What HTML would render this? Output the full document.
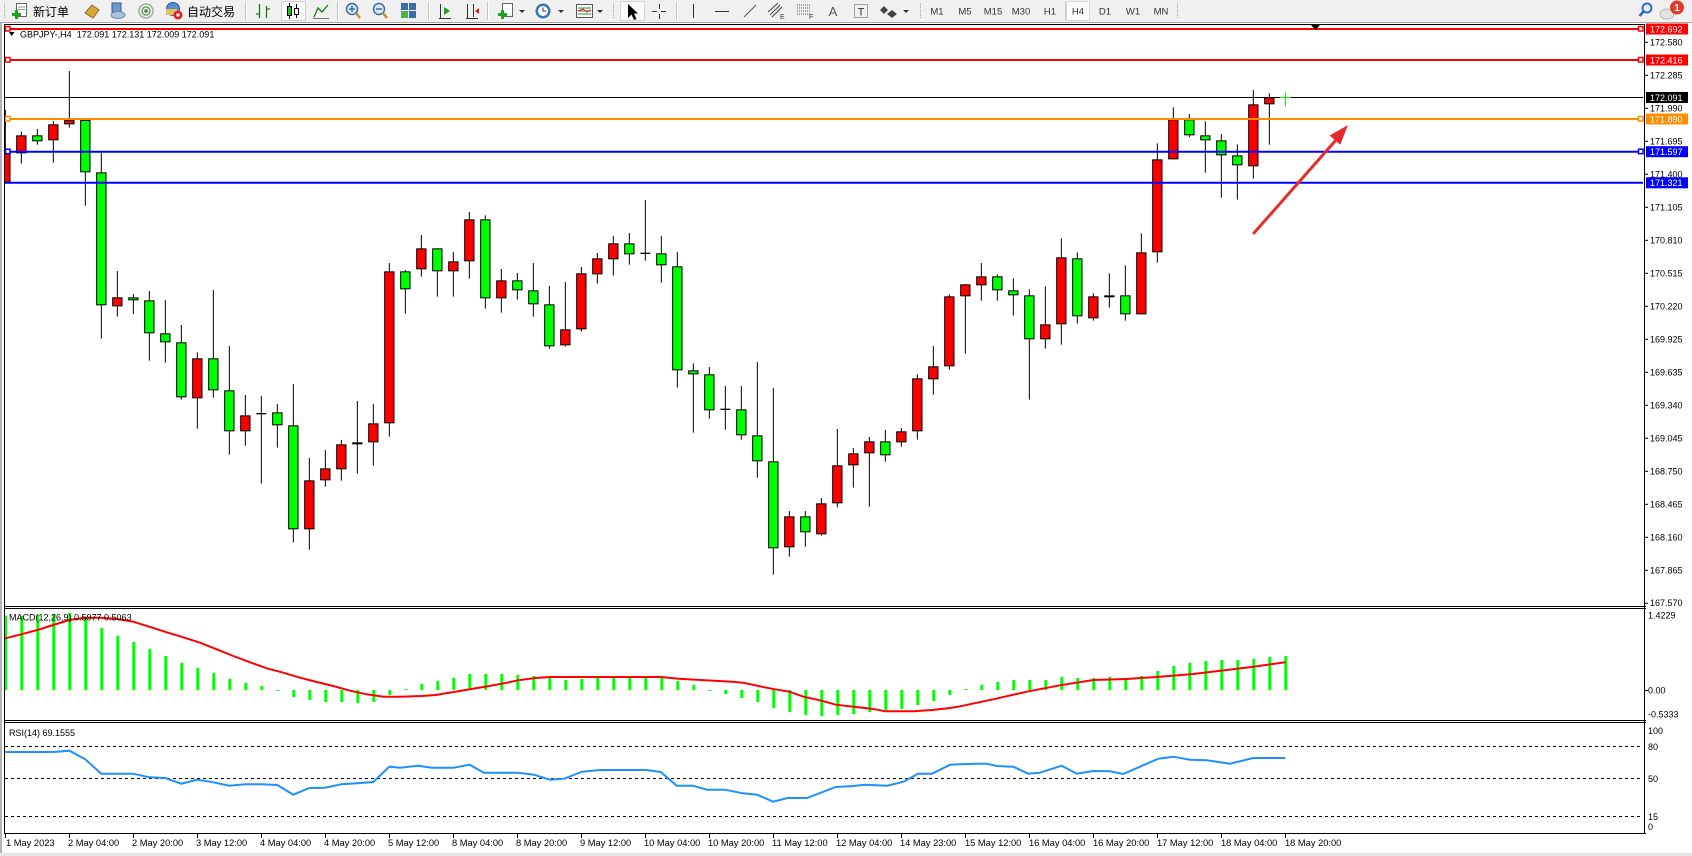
<!DOCTYPE html>
<html><head><meta charset="utf-8">
<style>
html,body{margin:0;padding:0;background:#fff;width:1692px;height:856px;overflow:hidden}
svg{display:block}
text{font-family:"Liberation Sans","Noto Sans CJK SC",sans-serif}
</style></head><body>
<svg width="1692" height="856" viewBox="0 0 1692 856" xmlns="http://www.w3.org/2000/svg">
<defs>
<clipPath id="cm"><rect x="5" y="25" width="1639" height="581"/></clipPath>
<clipPath id="cmacd"><rect x="5" y="609" width="1639" height="111"/></clipPath>
<clipPath id="crsi"><rect x="5" y="723" width="1639" height="110"/></clipPath>
</defs>

<!-- ============ TOOLBAR ============ -->
<rect x="0" y="0" width="1692" height="22" fill="#f0f0f0"/>
<line x1="0" y1="22.5" x2="1692" y2="22.5" stroke="#a8a8a8"/>
<line x1="4.5" y1="3" x2="4.5" y2="19" stroke="#a0a0a0" stroke-dasharray="1,1"/>
<!-- new order -->
<rect x="16.5" y="3.5" width="10" height="13" fill="#fff" stroke="#666"/>
<line x1="18" y1="7" x2="25" y2="7" stroke="#999"/><line x1="18" y1="9.5" x2="25" y2="9.5" stroke="#999"/>
<rect x="12" y="13" width="9" height="3" fill="#1fa31f"/><rect x="15" y="10" width="3" height="9" fill="#1fa31f"/>
<text x="33" y="16" font-size="12" fill="#000">新订单</text>
<!-- gold -->
<polygon points="85,13 92,5 99,10 93,18" fill="#d9a53a" stroke="#8a6a20"/>
<!-- terminal -->
<rect x="112" y="3" width="9" height="9" fill="#6a9ad0" stroke="#3a5a90"/>
<ellipse cx="118" cy="15" rx="7" ry="3.5" fill="#a9c3dd" stroke="#6a8ab0"/>
<!-- signals -->
<circle cx="146" cy="11" r="7" fill="none" stroke="#a0b0a0" stroke-width="1.5"/>
<circle cx="146" cy="11" r="4" fill="none" stroke="#70a070" stroke-width="1.5"/>
<circle cx="146" cy="11" r="1.8" fill="#3a8a3a"/>
<!-- auto trading -->
<circle cx="173" cy="9" r="6.5" fill="#5a8fcf" stroke="#2a5a9a"/>
<rect x="166" y="9" width="11" height="6" fill="#e8c060"/>
<circle cx="178" cy="15" r="4.5" fill="#e02020"/><rect x="176.5" y="13.5" width="3" height="3" fill="#fff"/>
<text x="187" y="16" font-size="12" fill="#000">自动交易</text>
<line x1="245.5" y1="2" x2="245.5" y2="20" stroke="#c4c4c4"/><line x1="246.5" y1="2" x2="246.5" y2="20" stroke="#fff"/>
<!-- chart types -->
<path d="M259.5 4V18M259.5 14H256M266.5 6V18M266.5 9H270" stroke="#1a7a1a" stroke-width="1.3" fill="none"/>
<rect x="281.5" y="1.5" width="24" height="19" fill="#fbfbfb" stroke="#d0d0d0"/>
<line x1="289.5" y1="3" x2="289.5" y2="19" stroke="#000"/><rect x="287.5" y="6.5" width="4" height="9" fill="#20c020" stroke="#000"/>
<line x1="296.5" y1="4" x2="296.5" y2="18" stroke="#000"/><rect x="294.5" y="8.5" width="4" height="6" fill="#fff" stroke="#000"/>
<polyline points="314,17 318,8 322,12 328,5" fill="none" stroke="#1a7a1a" stroke-width="1.3"/>
<line x1="313" y1="18.5" x2="329" y2="18.5" stroke="#777"/>
<line x1="337.5" y1="2" x2="337.5" y2="20" stroke="#c4c4c4"/><line x1="338.5" y1="2" x2="338.5" y2="20" stroke="#fff"/>
<!-- zoom -->
<circle cx="352" cy="9" r="5.5" fill="#d7e8f8" stroke="#3a6ea5" stroke-width="1.5"/>
<line x1="356" y1="13" x2="360" y2="18" stroke="#c89030" stroke-width="2.5"/>
<path d="M349 9H355M352 6V12" stroke="#2a5a95" stroke-width="1.3"/>
<circle cx="379" cy="9" r="5.5" fill="#d7e8f8" stroke="#3a6ea5" stroke-width="1.5"/>
<line x1="383" y1="13" x2="387" y2="18" stroke="#c89030" stroke-width="2.5"/>
<path d="M376 9H382" stroke="#2a5a95" stroke-width="1.3"/>
<rect x="401" y="3" width="7" height="7" fill="#3a6ea5"/><rect x="409" y="3" width="7" height="7" fill="#3a6ea5"/>
<rect x="401" y="11" width="7" height="7" fill="#4caf50"/><rect x="409" y="11" width="7" height="7" fill="#3a6ea5"/>
<line x1="428.5" y1="2" x2="428.5" y2="20" stroke="#c4c4c4"/><line x1="429.5" y1="2" x2="429.5" y2="20" stroke="#fff"/>
<path d="M440.5 4V18M439 18.5H451" stroke="#333" fill="none"/><polygon points="444,7 450,11 444,15" fill="#20a020"/>
<path d="M467.5 4V18M466 18.5H478M473.5 4V17" stroke="#333" fill="none"/><polygon points="475,11 479,8 479,14" fill="#d02020"/>
<line x1="487.5" y1="2" x2="487.5" y2="20" stroke="#c4c4c4"/><line x1="488.5" y1="2" x2="488.5" y2="20" stroke="#fff"/>
<rect x="502.5" y="3.5" width="10" height="13" fill="#fff" stroke="#666"/>
<rect x="498" y="13" width="9" height="3" fill="#1fa31f"/><rect x="501" y="10" width="3" height="9" fill="#1fa31f"/>
<polygon points="519,10 525,10 522,13" fill="#333"/>
<circle cx="543" cy="11" r="7.5" fill="#3a73c0"/><circle cx="543" cy="11" r="5" fill="#fff"/>
<path d="M543 7.5V11H546" stroke="#333" fill="none"/>
<polygon points="558,10 564,10 561,13" fill="#333"/>
<rect x="576.5" y="4.5" width="16" height="13" fill="#fff" stroke="#555"/>
<path d="M578 8H591M578 11H591M578 14H591" stroke="#3a8a3a"/><path d="M578 11L583 9L587 12L591 10" stroke="#d02020" fill="none"/>
<polygon points="597,10 603,10 600,13" fill="#333"/>
<line x1="613.5" y1="3" x2="613.5" y2="19" stroke="#a0a0a0" stroke-dasharray="1,1"/>
<!-- cursor etc -->
<rect x="620.5" y="1.5" width="24" height="19" fill="#fbfbfb" stroke="#d8d8d8"/>
<polygon points="628,4 628,18 631.5,14.5 634,20 636.5,19 634,13.5 638,13.5" fill="#000"/>
<path d="M652 11.5H657M661 11.5H666M659.5 4V9M659.5 14V19" stroke="#333"/>
<line x1="676.5" y1="2" x2="676.5" y2="20" stroke="#c4c4c4"/><line x1="677.5" y1="2" x2="677.5" y2="20" stroke="#fff"/>
<line x1="693.5" y1="4" x2="693.5" y2="18" stroke="#333"/>
<line x1="715" y1="11.5" x2="729" y2="11.5" stroke="#333"/>
<line x1="744" y1="17" x2="756" y2="5" stroke="#555"/>
<path d="M770 15L780 5M772 17L782 7M768 12L778 3" stroke="#444"/><text x="780" y="19" font-size="7" fill="#333">E</text>
<path d="M797 5H811M797 8H811M797 11H811M797 14H811" stroke="#555" stroke-dasharray="1,1"/><text x="809" y="19" font-size="7" fill="#333">F</text>
<text x="833" y="16" font-size="13" fill="#555" text-anchor="middle">A</text>
<rect x="854.5" y="4.5" width="13" height="13" fill="none" stroke="#555" stroke-dasharray="1,1"/><text x="861" y="15.5" font-size="11" fill="#333" text-anchor="middle">T</text>
<polygon points="884,6 888,10 884,14 880,10" fill="#444"/><polygon points="892,10 897,14 892,18 887,14" fill="#444"/>
<polygon points="903,10 909,10 906,13" fill="#333"/>
<line x1="920.5" y1="3" x2="920.5" y2="19" stroke="#a0a0a0" stroke-dasharray="1,1"/>
<g font-size="9.5" fill="#333" text-anchor="middle">
<text x="937" y="14.5">M1</text><text x="965" y="14.5">M5</text><text x="993" y="14.5">M15</text><text x="1021" y="14.5">M30</text><text x="1050" y="14.5">H1</text>
<line x1="1065.5" y1="2" x2="1065.5" y2="20" stroke="#c4c4c4"/>
<rect x="1066.5" y="1.5" width="23" height="19" fill="#fbfbfb" stroke="#d8d8d8"/>
<text x="1078" y="14.5">H4</text><text x="1105" y="14.5">D1</text><text x="1133" y="14.5">W1</text><text x="1161" y="14.5">MN</text>
</g>
<line x1="1177.5" y1="3" x2="1177.5" y2="19" stroke="#a0a0a0" stroke-dasharray="1,1"/>
<!-- right icons -->
<circle cx="1647" cy="8" r="4.5" fill="none" stroke="#2a6ac8" stroke-width="2"/>
<line x1="1643.5" y1="11.5" x2="1639.5" y2="16" stroke="#2a6ac8" stroke-width="2.5"/>
<ellipse cx="1667" cy="14" rx="7" ry="5" fill="#e2e2e2" stroke="#bbb"/>
<circle cx="1677" cy="7.5" r="7" fill="#e03c28"/>
<text x="1677" y="11" font-size="10" font-weight="bold" fill="#fff" text-anchor="middle">1</text>

<!-- ============ FRAMES ============ -->
<rect x="0" y="23" width="2" height="833" fill="#b4b4b4"/>
<rect x="0" y="853" width="1692" height="3" fill="#e6e6e6"/>
<line x1="4" y1="24.5" x2="1645" y2="24.5" stroke="#000"/>
<line x1="4.5" y1="24" x2="4.5" y2="834" stroke="#000"/>
<line x1="1644.5" y1="24" x2="1644.5" y2="834" stroke="#000"/>
<line x1="4" y1="606.5" x2="1646" y2="606.5" stroke="#000"/>
<line x1="4" y1="608.5" x2="1646" y2="608.5" stroke="#000"/>
<line x1="4" y1="720.5" x2="1646" y2="720.5" stroke="#000"/>
<line x1="4" y1="722.5" x2="1646" y2="722.5" stroke="#000"/>
<line x1="4" y1="833.5" x2="1646" y2="833.5" stroke="#000"/>

<!-- ============ CANDLES ============ -->
<g clip-path="url(#cm)">
<g transform="translate(0,60) scale(0.3333333)" stroke="#000" stroke-width="3">
<line x1="16" y1="150" x2="16" y2="370"/><rect x="2" y="281.5" width="28" height="85" fill="#f00"/>
<line x1="64" y1="215" x2="64" y2="311"/><rect x="50" y="227.5" width="28" height="51" fill="#f00"/>
<line x1="112" y1="207" x2="112" y2="254"/><rect x="98" y="227.5" width="28" height="15" fill="#0f0"/>
<line x1="160" y1="183" x2="160" y2="308"/><rect x="146" y="194.5" width="28" height="45" fill="#f00"/>
<line x1="208" y1="33" x2="208" y2="203"/><rect x="194" y="181.5" width="28" height="10" fill="#f00"/>
<line x1="256" y1="180" x2="256" y2="437"/><rect x="242" y="181.5" width="28" height="154" fill="#0f0"/>
<line x1="304" y1="277" x2="304" y2="836"/><rect x="290" y="338.5" width="28" height="396" fill="#0f0"/>
<line x1="352" y1="633" x2="352" y2="770"/><rect x="338" y="713.5" width="28" height="24" fill="#f00"/>
<line x1="400" y1="702" x2="400" y2="762"/><rect x="386" y="713.5" width="28" height="6" fill="#0f0"/>
<line x1="448" y1="693" x2="448" y2="902"/><rect x="434" y="722.5" width="28" height="96" fill="#0f0"/>
<line x1="496" y1="720" x2="496" y2="908"/><rect x="482" y="821.5" width="28" height="24" fill="#0f0"/>
<line x1="544" y1="795" x2="544" y2="1019"/><rect x="530" y="848.5" width="28" height="162" fill="#0f0"/>
<line x1="592" y1="877" x2="592" y2="1106"/><rect x="578" y="896.5" width="28" height="117" fill="#f00"/>
<line x1="640" y1="690" x2="640" y2="1013"/><rect x="626" y="896.5" width="28" height="93" fill="#0f0"/>
<line x1="688" y1="858" x2="688" y2="1184"/><rect x="674" y="992.5" width="28" height="120" fill="#0f0"/>
<line x1="736" y1="1005" x2="736" y2="1157"/><rect x="722" y="1067.5" width="28" height="45" fill="#f00"/>
<line x1="784" y1="1008" x2="784" y2="1271"/><line x1="769" y1="1061" x2="799" y2="1061" stroke-width="4"/>
<line x1="832" y1="1032" x2="832" y2="1163"/><rect x="818" y="1058.5" width="28" height="36" fill="#0f0"/>
<line x1="880" y1="972" x2="880" y2="1447"/><rect x="866" y="1097.5" width="28" height="309" fill="#0f0"/>
<line x1="928" y1="1194" x2="928" y2="1469"/><rect x="914" y="1262.5" width="28" height="144" fill="#f00"/>
</g>
<g transform="translate(320,100) scale(0.3333333)" stroke="#000" stroke-width="3">
<line x1="16" y1="1050" x2="16" y2="1160"/><rect x="2" y="1106.5" width="28" height="33" fill="#f00"/>
<line x1="64" y1="1020" x2="64" y2="1142"/><rect x="50" y="1034.5" width="28" height="72" fill="#f00"/>
<line x1="112" y1="903" x2="112" y2="1121"/><rect x="98" y="1028.5" width="28" height="3" fill="#f00"/>
<line x1="160" y1="912" x2="160" y2="1097"/><rect x="146" y="971.5" width="28" height="54" fill="#f00"/>
<line x1="208" y1="489" x2="208" y2="1010"/><rect x="194" y="515.5" width="28" height="453" fill="#f00"/>
<line x1="256" y1="510" x2="256" y2="641"/><rect x="242" y="515.5" width="28" height="51" fill="#0f0"/>
<line x1="304" y1="405" x2="304" y2="530"/><rect x="290" y="446.5" width="28" height="60" fill="#f00"/>
<line x1="352" y1="445" x2="352" y2="590"/><rect x="338" y="446.5" width="28" height="66" fill="#0f0"/>
<line x1="400" y1="456" x2="400" y2="590"/><rect x="386" y="485.5" width="28" height="27" fill="#f00"/>
<line x1="448" y1="336" x2="448" y2="536"/><rect x="434" y="359.5" width="28" height="123" fill="#f00"/>
<line x1="496" y1="346" x2="496" y2="626"/><rect x="482" y="359.5" width="28" height="234" fill="#0f0"/>
<line x1="544" y1="507" x2="544" y2="638"/><rect x="530" y="542.5" width="28" height="51" fill="#f00"/>
<line x1="592" y1="519" x2="592" y2="599"/><rect x="578" y="542.5" width="28" height="27" fill="#0f0"/>
<line x1="640" y1="489" x2="640" y2="650"/><rect x="626" y="572.5" width="28" height="39" fill="#0f0"/>
<line x1="688" y1="558" x2="688" y2="746"/><rect x="674" y="614.5" width="28" height="123" fill="#0f0"/>
<line x1="736" y1="546" x2="736" y2="740"/><rect x="722" y="689.5" width="28" height="45" fill="#f00"/>
<line x1="784" y1="501" x2="784" y2="695"/><rect x="770" y="521.5" width="28" height="165" fill="#f00"/>
<line x1="832" y1="459" x2="832" y2="551"/><rect x="818" y="476.5" width="28" height="45" fill="#f00"/>
<line x1="880" y1="408" x2="880" y2="527"/><rect x="866" y="431.5" width="28" height="45" fill="#f00"/>
<line x1="928" y1="399" x2="928" y2="494"/><rect x="914" y="431.5" width="28" height="30" fill="#0f0"/>
</g>
<g transform="translate(640,100) scale(0.3333333)" stroke="#000" stroke-width="3">
<line x1="16" y1="300" x2="16" y2="482"/><line x1="1" y1="460" x2="31" y2="460" stroke-width="4"/>
<line x1="64" y1="408" x2="64" y2="548"/><rect x="50" y="461.5" width="28" height="33" fill="#0f0"/>
<line x1="112" y1="456" x2="112" y2="863"/><rect x="98" y="500.5" width="28" height="309" fill="#0f0"/>
<line x1="160" y1="790" x2="160" y2="998"/><rect x="146" y="812.5" width="28" height="9" fill="#0f0"/>
<line x1="208" y1="801" x2="208" y2="956"/><rect x="194" y="824.5" width="28" height="105" fill="#0f0"/>
<line x1="256" y1="858" x2="256" y2="989"/><line x1="241" y1="928" x2="271" y2="928" stroke-width="4"/>
<line x1="304" y1="858" x2="304" y2="1019"/><rect x="290" y="929.5" width="28" height="75" fill="#0f0"/>
<line x1="352" y1="786" x2="352" y2="1133"/><rect x="338" y="1007.5" width="28" height="75" fill="#0f0"/>
<line x1="400" y1="864" x2="400" y2="1424"/><rect x="386" y="1085.5" width="28" height="258" fill="#0f0"/>
<line x1="448" y1="1233" x2="448" y2="1370"/><rect x="434" y="1250.5" width="28" height="90" fill="#f00"/>
<line x1="496" y1="1233" x2="496" y2="1340"/><rect x="482" y="1250.5" width="28" height="45" fill="#0f0"/>
<line x1="544" y1="1194" x2="544" y2="1307"/><rect x="530" y="1211.5" width="28" height="90" fill="#f00"/>
<line x1="592" y1="987" x2="592" y2="1222"/><rect x="578" y="1097.5" width="28" height="111" fill="#f00"/>
<line x1="640" y1="1044" x2="640" y2="1163"/><rect x="626" y="1061.5" width="28" height="33" fill="#f00"/>
<line x1="688" y1="1011" x2="688" y2="1220"/><rect x="674" y="1025.5" width="28" height="33" fill="#f00"/>
<line x1="736" y1="990" x2="736" y2="1085"/><rect x="722" y="1025.5" width="28" height="39" fill="#0f0"/>
<line x1="784" y1="984" x2="784" y2="1040"/><rect x="770" y="995.5" width="28" height="30" fill="#f00"/>
<line x1="832" y1="823" x2="832" y2="1019"/><rect x="818" y="836.5" width="28" height="156" fill="#f00"/>
<line x1="880" y1="738" x2="880" y2="884"/><rect x="866" y="800.5" width="28" height="36" fill="#f00"/>
<line x1="928" y1="583" x2="928" y2="809"/><rect x="914" y="590.5" width="28" height="207" fill="#f00"/>
</g>
<g transform="translate(960,80) scale(0.3333333)" stroke="#000" stroke-width="3">
<line x1="16" y1="612" x2="16" y2="821"/><rect x="2" y="614.5" width="28" height="33" fill="#f00"/>
<line x1="64" y1="549" x2="64" y2="662"/><rect x="50" y="590.5" width="28" height="24" fill="#f00"/>
<line x1="112" y1="583" x2="112" y2="662"/><rect x="98" y="590.5" width="28" height="39" fill="#0f0"/>
<line x1="160" y1="595" x2="160" y2="707"/><rect x="146" y="632.5" width="28" height="12" fill="#0f0"/>
<line x1="208" y1="628" x2="208" y2="959"/><rect x="194" y="647.5" width="28" height="129" fill="#0f0"/>
<line x1="256" y1="619" x2="256" y2="806"/><rect x="242" y="734.5" width="28" height="42" fill="#f00"/>
<line x1="304" y1="475" x2="304" y2="794"/><rect x="290" y="533.5" width="28" height="198" fill="#f00"/>
<line x1="352" y1="517" x2="352" y2="731"/><rect x="338" y="536.5" width="28" height="171" fill="#0f0"/>
<line x1="400" y1="640" x2="400" y2="722"/><rect x="386" y="650.5" width="28" height="63" fill="#f00"/>
<line x1="448" y1="580" x2="448" y2="683"/><rect x="434" y="647.5" width="28" height="3" fill="#f00"/>
<line x1="496" y1="556" x2="496" y2="722"/><rect x="482" y="647.5" width="28" height="54" fill="#0f0"/>
<line x1="544" y1="460" x2="544" y2="703"/><rect x="530" y="518.5" width="28" height="183" fill="#f00"/>
<line x1="592" y1="190" x2="592" y2="548"/><rect x="578" y="239.5" width="28" height="276" fill="#f00"/>
<line x1="640" y1="82" x2="640" y2="238"/><rect x="626" y="119.5" width="28" height="117" fill="#f00"/>
<line x1="688" y1="102" x2="688" y2="172"/><rect x="674" y="119.5" width="28" height="45" fill="#0f0"/>
<line x1="736" y1="124" x2="736" y2="278"/><rect x="722" y="167.5" width="28" height="12" fill="#0f0"/>
<line x1="784" y1="162" x2="784" y2="353"/><rect x="770" y="182.5" width="28" height="42" fill="#0f0"/>
<line x1="832" y1="193" x2="832" y2="359"/><rect x="818" y="227.5" width="28" height="27" fill="#0f0"/>
<line x1="880" y1="30" x2="880" y2="296"/><rect x="866" y="74.5" width="28" height="183" fill="#f00"/>
<line x1="928" y1="40" x2="928" y2="194"/><rect x="914" y="53.5" width="28" height="18" fill="#f00"/>
</g>

<!-- horizontal objects -->
<line x1="5" y1="29" x2="1643" y2="29" stroke="#f00" stroke-width="2"/>
<line x1="5" y1="60" x2="1643" y2="60" stroke="#f00" stroke-width="2"/>
<line x1="5" y1="97.5" x2="1643" y2="97.5" stroke="#000" stroke-width="1"/>
<line x1="5" y1="119" x2="1643" y2="119" stroke="#ff8c00" stroke-width="2"/>
<line x1="5" y1="151.7" x2="1643" y2="151.7" stroke="#0000ff" stroke-width="2"/>
<line x1="5" y1="182.8" x2="1643" y2="182.8" stroke="#0000ff" stroke-width="2"/>
<g fill="#fff" stroke-width="1.5">
<rect x="5.5" y="26.5" width="4.5" height="4.5" stroke="#f00"/>
<rect x="1638.5" y="26.5" width="4.5" height="4.5" stroke="#f00"/>
<rect x="5.5" y="57.5" width="4.5" height="4.5" stroke="#f00"/>
<rect x="1638.5" y="57.5" width="4.5" height="4.5" stroke="#f00"/>
<rect x="5.5" y="116.5" width="4.5" height="4.5" stroke="#ff8c00"/>
<rect x="1638.5" y="116.5" width="4.5" height="4.5" stroke="#ff8c00"/>
<rect x="5.5" y="149.2" width="4.5" height="4.5" stroke="#0000ff"/>
<rect x="1638.5" y="149.2" width="4.5" height="4.5" stroke="#0000ff"/>
</g>
<!-- current bar cross -->
<line x1="1285.5" y1="92.5" x2="1285.5" y2="106.5" stroke="#00ff00"/>
<line x1="1280" y1="97.5" x2="1291" y2="97.5" stroke="#00ff00"/>
<!-- arrow -->
<line x1="1254" y1="233" x2="1336" y2="140" stroke="#e52b2b" stroke-width="3" stroke-linecap="round"/>
<polygon points="1348,125 1340.2,144.7 1329.6,135.5" fill="#e52b2b"/>
<!-- shift marker -->
<polygon points="1311,25 1320,25 1315.5,30" fill="#000"/>
</g>

<!-- title -->
<polygon points="9,32 14.5,32 11.75,36" fill="#000"/>
<text x="20" y="37.6" font-size="9" fill="#000" xml:space="preserve">GBPJPY-,H4  172.091 172.131 172.009 172.091</text>

<!-- price axis -->
<g stroke="#000">
<line x1="1644" y1="42.3" x2="1648" y2="42.3"/><line x1="1644" y1="75.3" x2="1648" y2="75.3"/>
<line x1="1644" y1="108.3" x2="1648" y2="108.3"/><line x1="1644" y1="141.3" x2="1648" y2="141.3"/>
<line x1="1644" y1="174.3" x2="1648" y2="174.3"/><line x1="1644" y1="207.3" x2="1648" y2="207.3"/>
<line x1="1644" y1="240.3" x2="1648" y2="240.3"/><line x1="1644" y1="273.3" x2="1648" y2="273.3"/>
<line x1="1644" y1="306.3" x2="1648" y2="306.3"/><line x1="1644" y1="339.3" x2="1648" y2="339.3"/>
<line x1="1644" y1="372.3" x2="1648" y2="372.3"/><line x1="1644" y1="405.3" x2="1648" y2="405.3"/>
<line x1="1644" y1="438.3" x2="1648" y2="438.3"/><line x1="1644" y1="471.3" x2="1648" y2="471.3"/>
<line x1="1644" y1="504.3" x2="1648" y2="504.3"/><line x1="1644" y1="537.3" x2="1648" y2="537.3"/>
<line x1="1644" y1="570.3" x2="1648" y2="570.3"/><line x1="1644" y1="603.3" x2="1648" y2="603.3"/>
<line x1="1644" y1="690.5" x2="1648" y2="690.5"/>
</g>
<g font-size="9" fill="#000">
<text x="1650" y="45.5">172.580</text><text x="1650" y="78.5">172.285</text>
<text x="1650" y="111.5">171.990</text><text x="1650" y="144.5">171.695</text>
<text x="1650" y="177.5">171.400</text><text x="1650" y="210.5">171.105</text>
<text x="1650" y="243.5">170.810</text><text x="1650" y="276.5">170.515</text>
<text x="1650" y="309.5">170.220</text><text x="1650" y="342.5">169.925</text>
<text x="1650" y="375.5">169.635</text><text x="1650" y="408.5">169.340</text>
<text x="1650" y="441.5">169.045</text><text x="1650" y="474.5">168.750</text>
<text x="1650" y="507.5">168.465</text><text x="1650" y="540.5">168.160</text>
<text x="1650" y="573.5">167.865</text><text x="1650" y="606">167.570</text>
<text x="1648" y="618.3">1.4229</text><text x="1648" y="693.5">0.00</text><text x="1648" y="717.6">-0.5333</text>
<text x="1648" y="734">100</text><text x="1648" y="750">80</text><text x="1648" y="782">50</text>
<text x="1648" y="820">15</text><text x="1648" y="830">0</text>
</g>
<!-- price label boxes -->
<rect x="1646" y="23.5" width="42" height="11" fill="#f00"/>
<rect x="1646" y="54.5" width="42" height="11" fill="#f00"/>
<rect x="1646" y="92" width="42" height="11" fill="#000"/>
<rect x="1646" y="113.5" width="42" height="11" fill="#ff8c00"/>
<rect x="1646" y="146.2" width="42" height="11" fill="#0000ff"/>
<rect x="1646" y="177.3" width="42" height="11" fill="#0000ff"/>
<g font-size="9" fill="#fff">
<text x="1650" y="32.3">172.692</text><text x="1650" y="63.3">172.416</text>
<text x="1650" y="100.8">172.091</text><text x="1650" y="122.3">171.890</text>
<text x="1650" y="155">171.597</text><text x="1650" y="186.1">171.321</text>
</g>

<!-- ============ MACD ============ -->
<g clip-path="url(#cmacd)">
<g transform="translate(4.33,0)" fill="#00ff00">
<rect x="0" y="615.7" width="3" height="74.3"/><rect x="16" y="616" width="3" height="74"/>
<rect x="32" y="615" width="3" height="75"/><rect x="48" y="614" width="3" height="76"/>
<rect x="64" y="613" width="3" height="77"/><rect x="80" y="618.3" width="3" height="71.7"/>
<rect x="96" y="628" width="3" height="62"/><rect x="112" y="635.7" width="3" height="54.3"/>
<rect x="128" y="642" width="3" height="48"/><rect x="144" y="649" width="3" height="41"/>
<rect x="160" y="656" width="3" height="34"/><rect x="176" y="663" width="3" height="27"/>
<rect x="192" y="668" width="3" height="22"/><rect x="208" y="673" width="3" height="17"/>
<rect x="224" y="679" width="3" height="11"/><rect x="240" y="683" width="3" height="7"/>
<rect x="256" y="686" width="3" height="4"/><rect x="272" y="690" width="3" height="1"/>
<rect x="288" y="690" width="3" height="7"/><rect x="304" y="690" width="3" height="10"/>
<rect x="320" y="690" width="3" height="12"/><rect x="336" y="690" width="3" height="12"/>
<rect x="352" y="690" width="3" height="13"/><rect x="368" y="690" width="3" height="12"/>
<rect x="384" y="690" width="3" height="5"/><rect x="400" y="689" width="3" height="1"/>
<rect x="416" y="684" width="3" height="6"/><rect x="432" y="681" width="3" height="9"/>
<rect x="448" y="678" width="3" height="12"/><rect x="464" y="674" width="3" height="16"/>
<rect x="480" y="674" width="3" height="16"/><rect x="496" y="674" width="3" height="16"/>
<rect x="512" y="675" width="3" height="15"/><rect x="528" y="676" width="3" height="14"/>
<rect x="544" y="678" width="3" height="12"/><rect x="560" y="680" width="3" height="10"/>
<rect x="576" y="679" width="3" height="11"/><rect x="592" y="678" width="3" height="12"/>
<rect x="608" y="677" width="3" height="13"/><rect x="624" y="677" width="3" height="13"/>
<rect x="640" y="677" width="3" height="13"/><rect x="656" y="677" width="3" height="13"/>
<rect x="672" y="681" width="3" height="9"/><rect x="688" y="685" width="3" height="5"/>
<rect x="704" y="690" width="3" height="1"/><rect x="720" y="690" width="3" height="4"/>
<rect x="736" y="690" width="3" height="8"/><rect x="752" y="690" width="3" height="12"/>
<rect x="768" y="690" width="3" height="18"/><rect x="784" y="690" width="3" height="22"/>
<rect x="800" y="690" width="3" height="25"/><rect x="816" y="690" width="3" height="26"/>
<rect x="832" y="690" width="3" height="25"/><rect x="848" y="690" width="3" height="24"/>
<rect x="864" y="690" width="3" height="22"/><rect x="880" y="690" width="3" height="20"/>
<rect x="896" y="690" width="3" height="19"/><rect x="912" y="690" width="3" height="15"/>
<rect x="928" y="690" width="3" height="11"/><rect x="944" y="690" width="3" height="5"/>
<rect x="960" y="689" width="3" height="1"/><rect x="976" y="685" width="3" height="5"/>
<rect x="992" y="682" width="3" height="8"/><rect x="1008" y="680" width="3" height="10"/>
<rect x="1024" y="680" width="3" height="10"/><rect x="1040" y="680" width="3" height="10"/>
<rect x="1056" y="677" width="3" height="13"/><rect x="1072" y="678" width="3" height="12"/>
<rect x="1088" y="678" width="3" height="12"/><rect x="1104" y="677" width="3" height="13"/>
<rect x="1120" y="678" width="3" height="12"/><rect x="1136" y="676" width="3" height="14"/>
<rect x="1152" y="671" width="3" height="19"/><rect x="1168" y="666" width="3" height="24"/>
<rect x="1184" y="663" width="3" height="27"/><rect x="1200" y="661" width="3" height="29"/>
<rect x="1216" y="660" width="3" height="30"/><rect x="1232" y="660" width="3" height="30"/>
<rect x="1248" y="659" width="3" height="31"/><rect x="1264" y="657" width="3" height="33"/>
<rect x="1280" y="656" width="3" height="34"/>
</g>
<polyline fill="none" stroke="#f00" stroke-width="2" points="5.3,638.3 21.3,634.3 37.3,630 53.3,625 69.3,620 85.3,617.7 100,617.7 117.3,619 133.3,621.7 149.3,626.7 166.7,632.3 181.3,636.7 200,642.7 216.7,649.3 233.3,656 250,662.3 266.7,668.3 283.3,672.7 300,677.7 316.7,682 333.3,686 350,690.7 366.7,694.3 383.3,696.7 400,696.7 421.4,696 435.7,695 453.6,692 471.4,689 489.3,686 507.1,682.7 517.9,680.3 535.7,678 550,677 660.7,677 678.6,678.7 696.4,679.7 714.3,680.7 732.1,681.7 742.9,682.7 757.1,685.7 771.4,688.7 789.3,691.7 803.6,696.7 821.4,700.7 835.7,704.7 853.6,706.7 871.4,708.7 885.7,711.3 914.3,711.3 932.1,710 950,708 960,706.3 993.3,699.3 1026.7,691.7 1060,685.3 1093.3,680 1126.7,679 1160,676.7 1193.3,674 1226.7,670 1253.3,666.7 1285.3,662.3"/>
</g>
<text x="9" y="620.5" font-size="9" fill="#000">MACD(12,26,9) 0.5977 0.5063</text>

<!-- ============ RSI ============ -->
<g clip-path="url(#crsi)">
<g stroke="#000" stroke-dasharray="3,3">
<line x1="5" y1="746.5" x2="1643" y2="746.5"/>
<line x1="5" y1="778.5" x2="1643" y2="778.5"/>
<line x1="5" y1="816.5" x2="1643" y2="816.5"/>
</g>
<polyline fill="none" stroke="#1e90ff" stroke-width="2" points="5.3,752 53.3,752 69.3,750.7 85.3,759.3 101.3,773.7 133.3,773.7 149.3,777.3 165.3,778 181.3,783.7 197.3,779.7 213.3,782.3 229.3,785.7 245.3,784.3 261.3,784.3 277.3,785 293.3,794.7 309.3,788 325.3,787.7 341.3,784.3 357.3,783.3 373.3,782 389.3,766.7 400,767.7 417.9,765.7 432.1,767.7 453.6,767.7 469.6,764.7 483.9,772.7 517.9,772.7 533.9,774.7 550,779.7 564.3,778.7 582.1,771.7 600,770 646.4,770 660.7,772 676.8,785.7 692.9,785.7 707.1,789.7 725,789.7 742.9,793.3 757.1,794.7 773.2,801.7 787.5,798 807.1,798 835.7,787 853.6,786 864.3,784.7 887.5,785.7 903.6,781.7 917.9,773.7 932.1,773.7 950,764.7 960,764.3 976.7,763.7 986.7,763.7 996.7,766 1013.3,766.7 1028.3,773.7 1040,772.7 1061.7,765.7 1076.7,773.7 1093.3,771 1110,771.3 1123.3,774 1140,766.7 1158.3,758.7 1173.3,756.7 1190,759.7 1206.7,760.3 1230,763.7 1253.3,758 1285.3,758"/>
</g>
<text x="9" y="736" font-size="9" fill="#000">RSI(14) 69.1555</text>

<!-- ============ TIME AXIS ============ -->
<g stroke="#000">
<line x1="5.5" y1="834" x2="5.5" y2="838"/><line x1="69.5" y1="834" x2="69.5" y2="838"/>
<line x1="133.5" y1="834" x2="133.5" y2="838"/><line x1="197.5" y1="834" x2="197.5" y2="838"/>
<line x1="261.5" y1="834" x2="261.5" y2="838"/><line x1="325.5" y1="834" x2="325.5" y2="838"/>
<line x1="389.5" y1="834" x2="389.5" y2="838"/><line x1="453.5" y1="834" x2="453.5" y2="838"/>
<line x1="517.5" y1="834" x2="517.5" y2="838"/><line x1="581.5" y1="834" x2="581.5" y2="838"/>
<line x1="645.5" y1="834" x2="645.5" y2="838"/><line x1="709.5" y1="834" x2="709.5" y2="838"/>
<line x1="773.5" y1="834" x2="773.5" y2="838"/><line x1="837.5" y1="834" x2="837.5" y2="838"/>
<line x1="901.5" y1="834" x2="901.5" y2="838"/><line x1="965.5" y1="834" x2="965.5" y2="838"/>
<line x1="1029.5" y1="834" x2="1029.5" y2="838"/><line x1="1093.5" y1="834" x2="1093.5" y2="838"/>
<line x1="1157.5" y1="834" x2="1157.5" y2="838"/><line x1="1221.5" y1="834" x2="1221.5" y2="838"/>
<line x1="1285.5" y1="834" x2="1285.5" y2="838"/>
</g>
<g font-size="9.3" fill="#000">
<text x="6" y="846">1 May 2023</text>
<text x="68" y="846">2 May 04:00</text>
<text x="132" y="846">2 May 20:00</text>
<text x="196" y="846">3 May 12:00</text>
<text x="260" y="846">4 May 04:00</text>
<text x="324" y="846">4 May 20:00</text>
<text x="388" y="846">5 May 12:00</text>
<text x="452" y="846">8 May 04:00</text>
<text x="516" y="846">8 May 20:00</text>
<text x="580" y="846">9 May 12:00</text>
<text x="644" y="846">10 May 04:00</text>
<text x="708" y="846">10 May 20:00</text>
<text x="772" y="846">11 May 12:00</text>
<text x="836" y="846">12 May 04:00</text>
<text x="900" y="846">14 May 23:00</text>
<text x="965" y="846">15 May 12:00</text>
<text x="1029" y="846">16 May 04:00</text>
<text x="1093" y="846">16 May 20:00</text>
<text x="1157" y="846">17 May 12:00</text>
<text x="1221" y="846">18 May 04:00</text>
<text x="1285" y="846">18 May 20:00</text>
</g>
</svg>
</body></html>
